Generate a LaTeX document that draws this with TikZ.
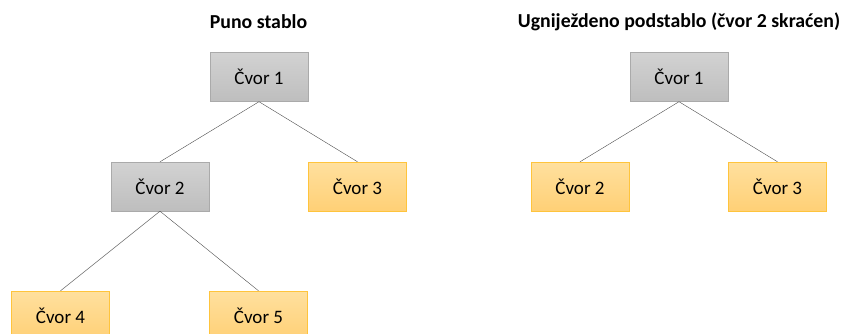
\documentclass[tikz,border=0pt]{standalone}
\usepackage{fontspec}
\setmainfont{Carlito}
\usetikzlibrary{positioning}
\definecolor{greytop}{RGB}{210,210,210}
\definecolor{greybot}{RGB}{190,190,190}
\definecolor{greyline}{RGB}{170,170,170}
\definecolor{ortop}{RGB}{255,224,158}
\definecolor{orbot}{RGB}{255,208,118}
\definecolor{orline}{RGB}{255,196,60}

\begin{document}
\begin{tikzpicture}[x=1pt,y=-1pt,
  inner/.style={draw=greyline,top color=greytop,bottom color=greybot,minimum width=98pt,minimum height=49pt,font=\fontsize{19}{22}\selectfont},
  leaf/.style={draw=orline,top color=ortop,bottom color=orbot,minimum width=98pt,minimum height=49pt,font=\fontsize{19}{22}\selectfont},
  title/.style={font=\bfseries\fontsize{19.8}{22}\selectfont},
  edge/.style={draw=black!70,thin}]
\useasboundingbox (0,0) rectangle (843,334);
\clip (0,0) rectangle (843,334);

% full tree
\node[title] (tfull) at (258.5,22) {Puno stablo};
\node[inner] (a1) at (259,77) {Čvor 1};
\node[inner] (a2) at (160,186.5) {Čvor 2};
\node[leaf]  (a3) at (357.5,186.5) {Čvor 3};
\node[leaf]  (a4) at (60.5,315.5) {Čvor 4};
\node[leaf]  (a5) at (258.5,315.5) {Čvor 5};

\draw[edge] (a1.south) -- (a2.north);
\draw[edge] (a1.south) -- (a3.north);
\draw[edge] (a2.south) -- (a4.north);
\draw[edge] (a2.south) -- (a5.north);

% nested subtree
\node[title] (tsub) at (679,22) {Ugniježdeno podstablo (čvor 2 skraćen)};
\node[inner] (b1) at (679,77) {Čvor 1};
\node[leaf]  (b2) at (580,186.5) {Čvor 2};
\node[leaf]  (b3) at (777.5,186.5) {Čvor 3};

\draw[edge] (b1.south) -- (b2.north);
\draw[edge] (b1.south) -- (b3.north);
\end{tikzpicture}
\end{document}
